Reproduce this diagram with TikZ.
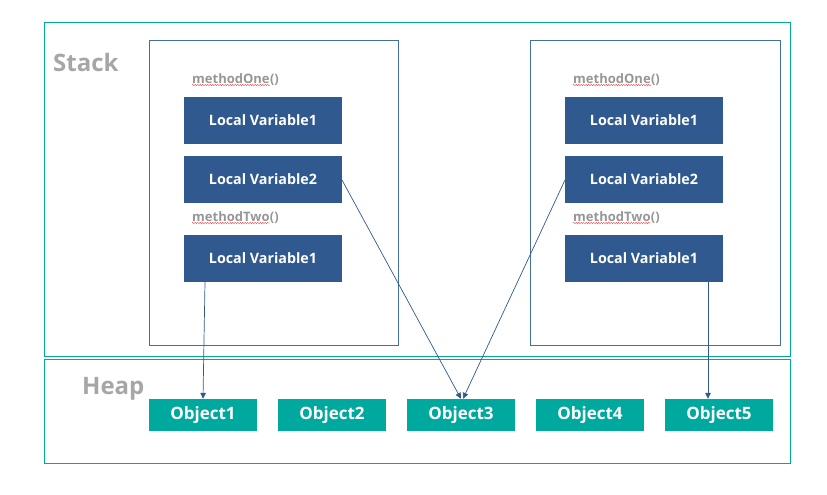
\documentclass[tikz,border=0pt]{standalone}
\usepackage{fontspec}
\setmainfont{Open Sans}
\usetikzlibrary{arrows.meta,decorations.pathmorphing}
\definecolor{teal1}{RGB}{0,169,157}
\definecolor{navy1}{RGB}{47,89,143}
\definecolor{frame1}{RGB}{65,113,156}
\definecolor{gray1}{RGB}{166,166,166}
\definecolor{gray2}{RGB}{150,150,150}
\tikzset{
  x=1pt,y=-1pt,
  region/.style={draw=teal1,line width=0.8pt},
  frame/.style={draw=frame1,line width=0.7pt},
  varbox/.style={fill=navy1,text=white,font=\bfseries\fontsize{14.3}{16}\selectfont,minimum width=158pt,minimum height=47pt,inner sep=0pt},
  objbox/.style={fill=teal1,text=white,font=\bfseries\fontsize{17}{19}\selectfont,minimum width=108pt,minimum height=32pt,inner sep=0pt},
  methlabel/.style={text=gray2,font=\bfseries\fontsize{13}{15}\selectfont,anchor=base west,inner sep=0pt},
  biglabel/.style={text=gray1,font=\bfseries\fontsize{24}{26}\selectfont,anchor=west,inner sep=0pt},
  ref/.style={draw=navy1,line width=0.7pt,-{Triangle[length=6pt,width=5.5pt]}},
  squig/.style={draw=red!80,line width=0.4pt,decorate,decoration={snake,amplitude=0.6pt,segment length=2.5pt}}
}
\begin{document}
\begin{tikzpicture}
\useasboundingbox (0,0) rectangle (827,495);
% regions
\draw[region] (44,22) rectangle (790,356);
\draw[region] (44,359) rectangle (790,463);
\node[biglabel] (stack) at (53,62.5) {Stack};
\node[biglabel] (heap) at (82,389) {Heap};
% frames
\draw[frame] (149,40) rectangle (398,345);
\draw[frame] (530,40) rectangle (780,345);
% left thread
\node[methlabel] (m1l) at (192,83) {methodOne};
\node[methlabel] (m1lp) at (m1l.base east) {()};
\node[varbox] (l1) at (263,120.5) {Local Variable1};
\node[varbox] (l2) at (263,179.5) {Local Variable2};
\node[methlabel] (m2l) at (192,221) {methodTwo};
\node[methlabel] (m2lp) at (m2l.base east) {()};
\node[varbox] (l3) at (263,258.5) {Local Variable1};
% right thread
\node[methlabel] (m1r) at (573,83) {methodOne};
\node[methlabel] (m1rp) at (m1r.base east) {()};
\node[varbox] (r1) at (644,120.5) {Local Variable1};
\node[varbox] (r2) at (644,179.5) {Local Variable2};
\node[methlabel] (m2r) at (573,221) {methodTwo};
\node[methlabel] (m2rp) at (m2r.base east) {()};
\node[varbox] (r3) at (644,258.5) {Local Variable1};
% spell-check underlines
\foreach \n in {m1l,m2l,m1r,m2r}{
  \draw[squig] ([yshift=-2pt]\n.base west) -- ([yshift=-2pt]\n.base east);
}
% objects
\node[objbox] (o1) at (203,415) {Object1};
\node[objbox] (o2) at (332,415) {Object2};
\node[objbox] (o3) at (461,415) {Object3};
\node[objbox] (o4) at (590,415) {Object4};
\node[objbox] (o5) at (719,415) {Object5};
% references
\coordinate (a1) at (205,282);
\coordinate (a2) at (342,180);
\coordinate (a3) at (565,180);
\coordinate (a4) at (708,282);
\draw[ref] (a1) -- (o1.north);
\draw[ref] (a2) -- (o3.north);
\draw[ref] (a3) -- ([xshift=2pt]o3.north);
\draw[ref] (a4) -- ([xshift=-11pt]o5.north);
\end{tikzpicture}
\end{document}
